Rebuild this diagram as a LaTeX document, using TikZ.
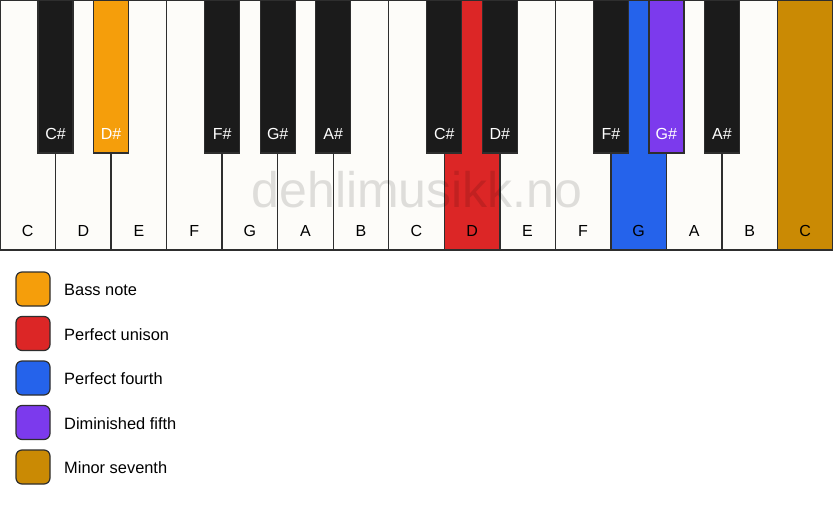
\documentclass[tikz,border=0pt]{standalone}
\usepackage{fontspec}
\setmainfont{Liberation Sans}
\definecolor{ivory}{HTML}{FDFCF9}
\definecolor{ebony}{HTML}{1B1B1B}
\definecolor{keyline}{HTML}{2E2E2E}
\definecolor{bassnote}{HTML}{F59E0B}
\definecolor{unison}{HTML}{DC2626}
\definecolor{fourth}{HTML}{2563EB}
\definecolor{dimfifth}{HTML}{7C3AED}
\definecolor{minseventh}{HTML}{CA8A04}
\tikzset{
	,x = 1pt, y = -1pt
	,font = \fontsize{16}{19}\selectfont
	,whitekey/.style = {rectangle, draw=keyline, line width=1.4pt, fill=ivory, anchor=north west, minimum width=55.53pt, minimum height=250pt, inner sep=0pt, outer sep=0pt}
	,blackkey/.style = {rectangle, draw=keyline, line width=1.2pt, fill=ebony, anchor=north, minimum width=35pt, minimum height=153pt, inner sep=0pt, outer sep=0pt}
	,wlabel/.style = {anchor=base, yshift=14pt, text=black}
	,blabel/.style = {anchor=base, yshift=14pt, text=white}
	,swatch/.style = {rectangle, rounded corners=6pt, draw=keyline, line width=1.2pt, minimum size=34pt, inner sep=0pt}
	,legtext/.style = {anchor=base west, inner sep=0pt, text=black, font=\fontsize{16.4}{19}\selectfont}
	,watermark/.style = {anchor=base, inner sep=0pt, text=black, text opacity=0.12, font=\fontsize{50}{54}\selectfont}
}
\begin{document}
\begin{tikzpicture}
		\useasboundingbox[fill=white] (0,0) rectangle (833,506);
		% white keys
		\node[whitekey, label={[wlabel]below:C}] at (0.00, 0) (wC1) {};
		\node[whitekey, label={[wlabel]below:D}] at (55.53, 0) (wD1) {};
		\node[whitekey, label={[wlabel]below:E}] at (111.07, 0) (wE1) {};
		\node[whitekey, label={[wlabel]below:F}] at (166.60, 0) (wF1) {};
		\node[whitekey, label={[wlabel]below:G}] at (222.13, 0) (wG1) {};
		\node[whitekey, label={[wlabel]below:A}] at (277.67, 0) (wA1) {};
		\node[whitekey, label={[wlabel]below:B}] at (333.20, 0) (wB1) {};
		\node[whitekey, label={[wlabel]below:C}] at (388.73, 0) (wC2) {};
		\node[whitekey, fill=unison, label={[wlabel]below:D}] at (444.27, 0) (wD2) {};
		\node[whitekey, label={[wlabel]below:E}] at (499.80, 0) (wE2) {};
		\node[whitekey, label={[wlabel]below:F}] at (555.33, 0) (wF2) {};
		\node[whitekey, fill=fourth, label={[wlabel]below:G}] at (610.87, 0) (wG2) {};
		\node[whitekey, label={[wlabel]below:A}] at (666.40, 0) (wA2) {};
		\node[whitekey, label={[wlabel]below:B}] at (721.93, 0) (wB2) {};
		\node[whitekey, fill=minseventh, label={[wlabel]below:C}] at (777.47, 0) (wC3) {};
		% black keys
		\node[blackkey, label={[blabel]below:C\#}] at (55.53, 0) (bCs1) {};
		\node[blackkey, fill=bassnote, label={[blabel]below:D\#}] at (111.07, 0) (bDs1) {};
		\node[blackkey, label={[blabel]below:F\#}] at (222.13, 0) (bFs1) {};
		\node[blackkey, label={[blabel]below:G\#}] at (277.67, 0) (bGs1) {};
		\node[blackkey, label={[blabel]below:A\#}] at (333.20, 0) (bAs1) {};
		\node[blackkey, label={[blabel]below:C\#}] at (444.27, 0) (bCs2) {};
		\node[blackkey, label={[blabel]below:D\#}] at (499.80, 0) (bDs2) {};
		\node[blackkey, label={[blabel]below:F\#}] at (610.87, 0) (bFs2) {};
		\node[blackkey, fill=dimfifth, label={[blabel]below:G\#}] at (666.40, 0) (bGs2) {};
		\node[blackkey, label={[blabel]below:A\#}] at (721.93, 0) (bAs2) {};
		\node[watermark] at (417, 207) (wm) {dehlimusikk.no};
		% legend
		\node[swatch, fill=bassnote] at (33, 289.0) (swBass) {};
		\node[swatch, fill=unison] at (33, 333.5) (swUnison) {};
		\node[swatch, fill=fourth] at (33, 378.0) (swFourth) {};
		\node[swatch, fill=dimfifth] at (33, 422.5) (swFifth) {};
		\node[swatch, fill=minseventh] at (33, 467.0) (swSeventh) {};
		\node[legtext] at (64, 295.5) (legBass) {Bass note};
		\node[legtext] at (64, 340.0) (legUnison) {Perfect unison};
		\node[legtext] at (64, 384.5) (legFourth) {Perfect fourth};
		\node[legtext] at (64, 429.0) (legFifth) {Diminished fifth};
		\node[legtext] at (64, 473.5) (legSeventh) {Minor seventh};
	\end{tikzpicture}
\end{document}
